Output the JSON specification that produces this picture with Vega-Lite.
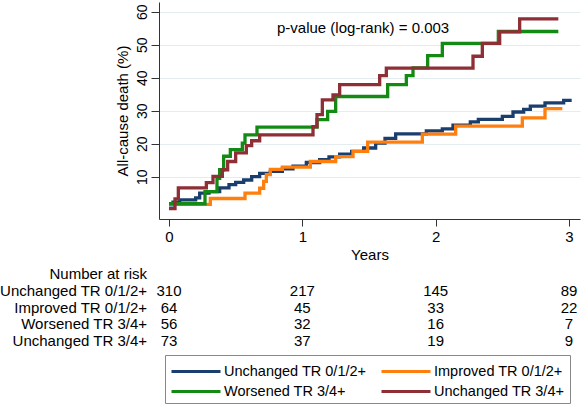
{
  "$schema": "https://vega.github.io/schema/vega-lite/v6.json",
  "width": 421,
  "height": 217,
  "autosize": {"type": "none"},
  "padding": {"left": 159, "top": 2, "right": 3, "bottom": 189},
  "config": {
    "view": {"stroke": null},
    "font": "Liberation Sans",
    "text": {"font": "Liberation Sans", "color": "#000000"},
    "axis": {"labelFont": "Liberation Sans", "titleFont": "Liberation Sans", "labelColor": "#000000", "titleColor": "#000000", "titleFontWeight": "normal", "domainColor": "#333333", "tickColor": "#333333"},
    "legend": {"labelFont": "Liberation Sans", "labelColor": "#000000"}
  },
  "datasets": {
    "km": [
      {"group": "Unchanged TR 0/1/2+", "t": 0, "pct": 1.5},
      {"group": "Unchanged TR 0/1/2+", "t": 0.03, "pct": 2.3},
      {"group": "Unchanged TR 0/1/2+", "t": 0.08, "pct": 3.0},
      {"group": "Unchanged TR 0/1/2+", "t": 0.2, "pct": 3.6},
      {"group": "Unchanged TR 0/1/2+", "t": 0.23, "pct": 5.0},
      {"group": "Unchanged TR 0/1/2+", "t": 0.3, "pct": 5.5},
      {"group": "Unchanged TR 0/1/2+", "t": 0.38, "pct": 6.6},
      {"group": "Unchanged TR 0/1/2+", "t": 0.45, "pct": 7.6},
      {"group": "Unchanged TR 0/1/2+", "t": 0.5, "pct": 8.3},
      {"group": "Unchanged TR 0/1/2+", "t": 0.56, "pct": 9.0},
      {"group": "Unchanged TR 0/1/2+", "t": 0.62, "pct": 10.0},
      {"group": "Unchanged TR 0/1/2+", "t": 0.68, "pct": 11.0},
      {"group": "Unchanged TR 0/1/2+", "t": 0.76, "pct": 11.6},
      {"group": "Unchanged TR 0/1/2+", "t": 0.85, "pct": 12.4},
      {"group": "Unchanged TR 0/1/2+", "t": 0.93, "pct": 13.2},
      {"group": "Unchanged TR 0/1/2+", "t": 1.03, "pct": 14.3},
      {"group": "Unchanged TR 0/1/2+", "t": 1.13, "pct": 15.2},
      {"group": "Unchanged TR 0/1/2+", "t": 1.2, "pct": 16.0},
      {"group": "Unchanged TR 0/1/2+", "t": 1.28, "pct": 16.8},
      {"group": "Unchanged TR 0/1/2+", "t": 1.37, "pct": 17.7},
      {"group": "Unchanged TR 0/1/2+", "t": 1.46, "pct": 18.7},
      {"group": "Unchanged TR 0/1/2+", "t": 1.55, "pct": 20.2},
      {"group": "Unchanged TR 0/1/2+", "t": 1.62, "pct": 21.6},
      {"group": "Unchanged TR 0/1/2+", "t": 1.7, "pct": 23.0},
      {"group": "Unchanged TR 0/1/2+", "t": 1.93, "pct": 23.9},
      {"group": "Unchanged TR 0/1/2+", "t": 2.05, "pct": 24.5},
      {"group": "Unchanged TR 0/1/2+", "t": 2.13, "pct": 25.6},
      {"group": "Unchanged TR 0/1/2+", "t": 2.26, "pct": 26.6},
      {"group": "Unchanged TR 0/1/2+", "t": 2.32, "pct": 27.4},
      {"group": "Unchanged TR 0/1/2+", "t": 2.5, "pct": 28.3},
      {"group": "Unchanged TR 0/1/2+", "t": 2.58, "pct": 29.6},
      {"group": "Unchanged TR 0/1/2+", "t": 2.66, "pct": 30.4},
      {"group": "Unchanged TR 0/1/2+", "t": 2.71, "pct": 31.4},
      {"group": "Unchanged TR 0/1/2+", "t": 2.82, "pct": 32.4},
      {"group": "Unchanged TR 0/1/2+", "t": 2.96, "pct": 33.1},
      {"group": "Unchanged TR 0/1/2+", "t": 3.02, "pct": 33.1},
      {"group": "Improved TR 0/1/2+", "t": 0, "pct": 1.6},
      {"group": "Improved TR 0/1/2+", "t": 0.31, "pct": 3.4},
      {"group": "Improved TR 0/1/2+", "t": 0.57, "pct": 5.0},
      {"group": "Improved TR 0/1/2+", "t": 0.68, "pct": 6.5},
      {"group": "Improved TR 0/1/2+", "t": 0.71, "pct": 8.6},
      {"group": "Improved TR 0/1/2+", "t": 0.73, "pct": 10.6},
      {"group": "Improved TR 0/1/2+", "t": 0.76, "pct": 12.2},
      {"group": "Improved TR 0/1/2+", "t": 0.85, "pct": 12.9},
      {"group": "Improved TR 0/1/2+", "t": 1.06, "pct": 14.6},
      {"group": "Improved TR 0/1/2+", "t": 1.25, "pct": 16.1},
      {"group": "Improved TR 0/1/2+", "t": 1.38, "pct": 17.7},
      {"group": "Improved TR 0/1/2+", "t": 1.49, "pct": 20.5},
      {"group": "Improved TR 0/1/2+", "t": 1.9, "pct": 22.9},
      {"group": "Improved TR 0/1/2+", "t": 2.15, "pct": 25.3},
      {"group": "Improved TR 0/1/2+", "t": 2.65, "pct": 27.8},
      {"group": "Improved TR 0/1/2+", "t": 2.82, "pct": 30.6},
      {"group": "Improved TR 0/1/2+", "t": 2.95, "pct": 30.6},
      {"group": "Worsened TR 3/4+", "t": 0, "pct": 1.8},
      {"group": "Worsened TR 3/4+", "t": 0.27, "pct": 5.5},
      {"group": "Worsened TR 3/4+", "t": 0.36, "pct": 9.5},
      {"group": "Worsened TR 3/4+", "t": 0.38, "pct": 12.1},
      {"group": "Worsened TR 3/4+", "t": 0.41, "pct": 16.2},
      {"group": "Worsened TR 3/4+", "t": 0.46, "pct": 18.2},
      {"group": "Worsened TR 3/4+", "t": 0.55, "pct": 20.2},
      {"group": "Worsened TR 3/4+", "t": 0.57, "pct": 22.7},
      {"group": "Worsened TR 3/4+", "t": 0.66, "pct": 25.0},
      {"group": "Worsened TR 3/4+", "t": 1.11, "pct": 27.3},
      {"group": "Worsened TR 3/4+", "t": 1.19, "pct": 29.8},
      {"group": "Worsened TR 3/4+", "t": 1.25, "pct": 34.3},
      {"group": "Worsened TR 3/4+", "t": 1.64, "pct": 37.9},
      {"group": "Worsened TR 3/4+", "t": 1.78, "pct": 40.6},
      {"group": "Worsened TR 3/4+", "t": 1.83, "pct": 43.0},
      {"group": "Worsened TR 3/4+", "t": 1.94, "pct": 46.7},
      {"group": "Worsened TR 3/4+", "t": 2.05, "pct": 50.4},
      {"group": "Worsened TR 3/4+", "t": 2.47, "pct": 54.0},
      {"group": "Worsened TR 3/4+", "t": 2.92, "pct": 54.0},
      {"group": "Unchanged TR 3/4+", "t": 0, "pct": 0.3},
      {"group": "Unchanged TR 3/4+", "t": 0.045, "pct": 3.3},
      {"group": "Unchanged TR 3/4+", "t": 0.07, "pct": 6.6},
      {"group": "Unchanged TR 3/4+", "t": 0.28, "pct": 8.2},
      {"group": "Unchanged TR 3/4+", "t": 0.33, "pct": 10.1},
      {"group": "Unchanged TR 3/4+", "t": 0.4, "pct": 12.1},
      {"group": "Unchanged TR 3/4+", "t": 0.44, "pct": 14.6},
      {"group": "Unchanged TR 3/4+", "t": 0.5, "pct": 17.2},
      {"group": "Unchanged TR 3/4+", "t": 0.58, "pct": 19.4},
      {"group": "Unchanged TR 3/4+", "t": 0.62, "pct": 20.9},
      {"group": "Unchanged TR 3/4+", "t": 0.68, "pct": 22.7},
      {"group": "Unchanged TR 3/4+", "t": 1.08, "pct": 25.2},
      {"group": "Unchanged TR 3/4+", "t": 1.11, "pct": 28.8},
      {"group": "Unchanged TR 3/4+", "t": 1.15, "pct": 33.3},
      {"group": "Unchanged TR 3/4+", "t": 1.23, "pct": 34.8},
      {"group": "Unchanged TR 3/4+", "t": 1.28, "pct": 37.9},
      {"group": "Unchanged TR 3/4+", "t": 1.58, "pct": 40.6},
      {"group": "Unchanged TR 3/4+", "t": 1.63, "pct": 42.9},
      {"group": "Unchanged TR 3/4+", "t": 2.28, "pct": 46.5},
      {"group": "Unchanged TR 3/4+", "t": 2.35, "pct": 50.4},
      {"group": "Unchanged TR 3/4+", "t": 2.48, "pct": 53.9},
      {"group": "Unchanged TR 3/4+", "t": 2.63, "pct": 57.8},
      {"group": "Unchanged TR 3/4+", "t": 2.92, "pct": 57.8}
    ],
    "risk": [
      {"group": "Unchanged TR 0/1/2+", "t": 0, "n": 310},
      {"group": "Unchanged TR 0/1/2+", "t": 1, "n": 217},
      {"group": "Unchanged TR 0/1/2+", "t": 2, "n": 145},
      {"group": "Unchanged TR 0/1/2+", "t": 3, "n": 89},
      {"group": "Improved TR 0/1/2+", "t": 0, "n": 64},
      {"group": "Improved TR 0/1/2+", "t": 1, "n": 45},
      {"group": "Improved TR 0/1/2+", "t": 2, "n": 33},
      {"group": "Improved TR 0/1/2+", "t": 3, "n": 22},
      {"group": "Worsened TR 3/4+", "t": 0, "n": 56},
      {"group": "Worsened TR 3/4+", "t": 1, "n": 32},
      {"group": "Worsened TR 3/4+", "t": 2, "n": 16},
      {"group": "Worsened TR 3/4+", "t": 3, "n": 7},
      {"group": "Unchanged TR 3/4+", "t": 0, "n": 73},
      {"group": "Unchanged TR 3/4+", "t": 1, "n": 37},
      {"group": "Unchanged TR 3/4+", "t": 2, "n": 19},
      {"group": "Unchanged TR 3/4+", "t": 3, "n": 9}
    ],
    "rowlabels": [
      {"group": "Number at risk"},
      {"group": "Unchanged TR 0/1/2+"},
      {"group": "Improved TR 0/1/2+"},
      {"group": "Worsened TR 3/4+"},
      {"group": "Unchanged TR 3/4+"}
    ]
  },
  "resolve": {"scale": {"y": "independent"}, "axis": {"y": "independent"}},
  "layer": [
    {
      "layer": [
        {
          "data": {"name": "km"},
          "encoding": {
            "x": {"field": "t", "type": "quantitative", "scale": {"domain": [-0.075, 3.0825], "nice": false, "zero": false},
              "axis": {"values": [0, 1, 2, 3], "format": "d", "title": "Years", "grid": false, "tickSize": 7, "labelPadding": 3, "labelFontSize": 15, "titleFontSize": 15, "titlePadding": 3, "labelFlush": false}},
            "y": {"field": "pct", "type": "quantitative", "scale": {"domain": [-2.82, 62.94], "nice": false, "zero": false},
              "axis": {"values": [10, 20, 30, 40, 50, 60], "format": "d", "title": "All-cause death (%)", "orient": "left", "labelAngle": -90, "tickSize": 8, "labelPadding": 2, "labelFontSize": 14, "titleFontSize": 15, "titlePadding": 5, "grid": true, "gridColor": "#e3ecef", "gridWidth": 1.2, "labelFlush": false}},
            "color": {"field": "group", "type": "nominal",
              "scale": {"domain": ["Unchanged TR 0/1/2+", "Worsened TR 3/4+", "Improved TR 0/1/2+", "Unchanged TR 3/4+"], "range": ["#1a3f6f", "#138a13", "#ff7f0e", "#8e2f36"]},
              "legend": {"orient": "none", "legendX": 6, "legendY": 353, "columns": 2, "gridAlign": "each", "title": null, "symbolType": "M-1,0H3.9", "symbolSize": 400, "symbolStrokeWidth": 3, "labelFontSize": 14.5, "labelOffset": 31, "columnPadding": 8, "rowPadding": 2, "padding": 5, "strokeColor": "#888888", "fillColor": "#ffffff", "labelLimit": 300}}
          },
          "layer": [
            {"transform": [{"filter": "datum.group === 'Unchanged TR 0/1/2+'"}], "mark": {"type": "line", "interpolate": "step-after", "strokeWidth": 3.3}},
            {"transform": [{"filter": "datum.group === 'Improved TR 0/1/2+'"}], "mark": {"type": "line", "interpolate": "step-after", "strokeWidth": 3.3}},
            {"transform": [{"filter": "datum.group === 'Worsened TR 3/4+'"}], "mark": {"type": "line", "interpolate": "step-after", "strokeWidth": 3.3}},
            {"transform": [{"filter": "datum.group === 'Unchanged TR 3/4+'"}], "mark": {"type": "line", "interpolate": "step-after", "strokeWidth": 3.3}}
          ]
        },
        {
          "data": {"values": [{"label": "p-value (log-rank) = 0.003"}]},
          "mark": {"type": "text", "align": "left", "baseline": "middle", "fontSize": 15},
          "encoding": {
            "x": {"datum": 0.81, "type": "quantitative"},
            "y": {"datum": 55.2, "type": "quantitative"},
            "text": {"field": "label", "type": "nominal"}
          }
        }
      ]
    },
    {
      "data": {"name": "risk"},
      "mark": {"type": "text", "align": "center", "baseline": "middle", "fontSize": 15},
      "encoding": {
        "x": {"field": "t", "type": "quantitative"},
        "y": {"field": "group", "type": "nominal", "scale": {"type": "point", "domain": ["Number at risk", "Unchanged TR 0/1/2+", "Improved TR 0/1/2+", "Worsened TR 3/4+", "Unchanged TR 3/4+"], "range": [271.7, 339.3], "padding": 0}, "axis": null},
        "text": {"field": "n", "type": "quantitative"}
      }
    },
    {
      "data": {"name": "rowlabels"},
      "mark": {"type": "text", "align": "right", "baseline": "middle", "fontSize": 15},
      "encoding": {
        "x": {"datum": -0.165, "type": "quantitative"},
        "y": {"field": "group", "type": "nominal", "scale": {"type": "point", "domain": ["Number at risk", "Unchanged TR 0/1/2+", "Improved TR 0/1/2+", "Worsened TR 3/4+", "Unchanged TR 3/4+"], "range": [271.7, 339.3], "padding": 0}, "axis": null},
        "text": {"field": "group", "type": "nominal"}
      }
    }
  ]
}
